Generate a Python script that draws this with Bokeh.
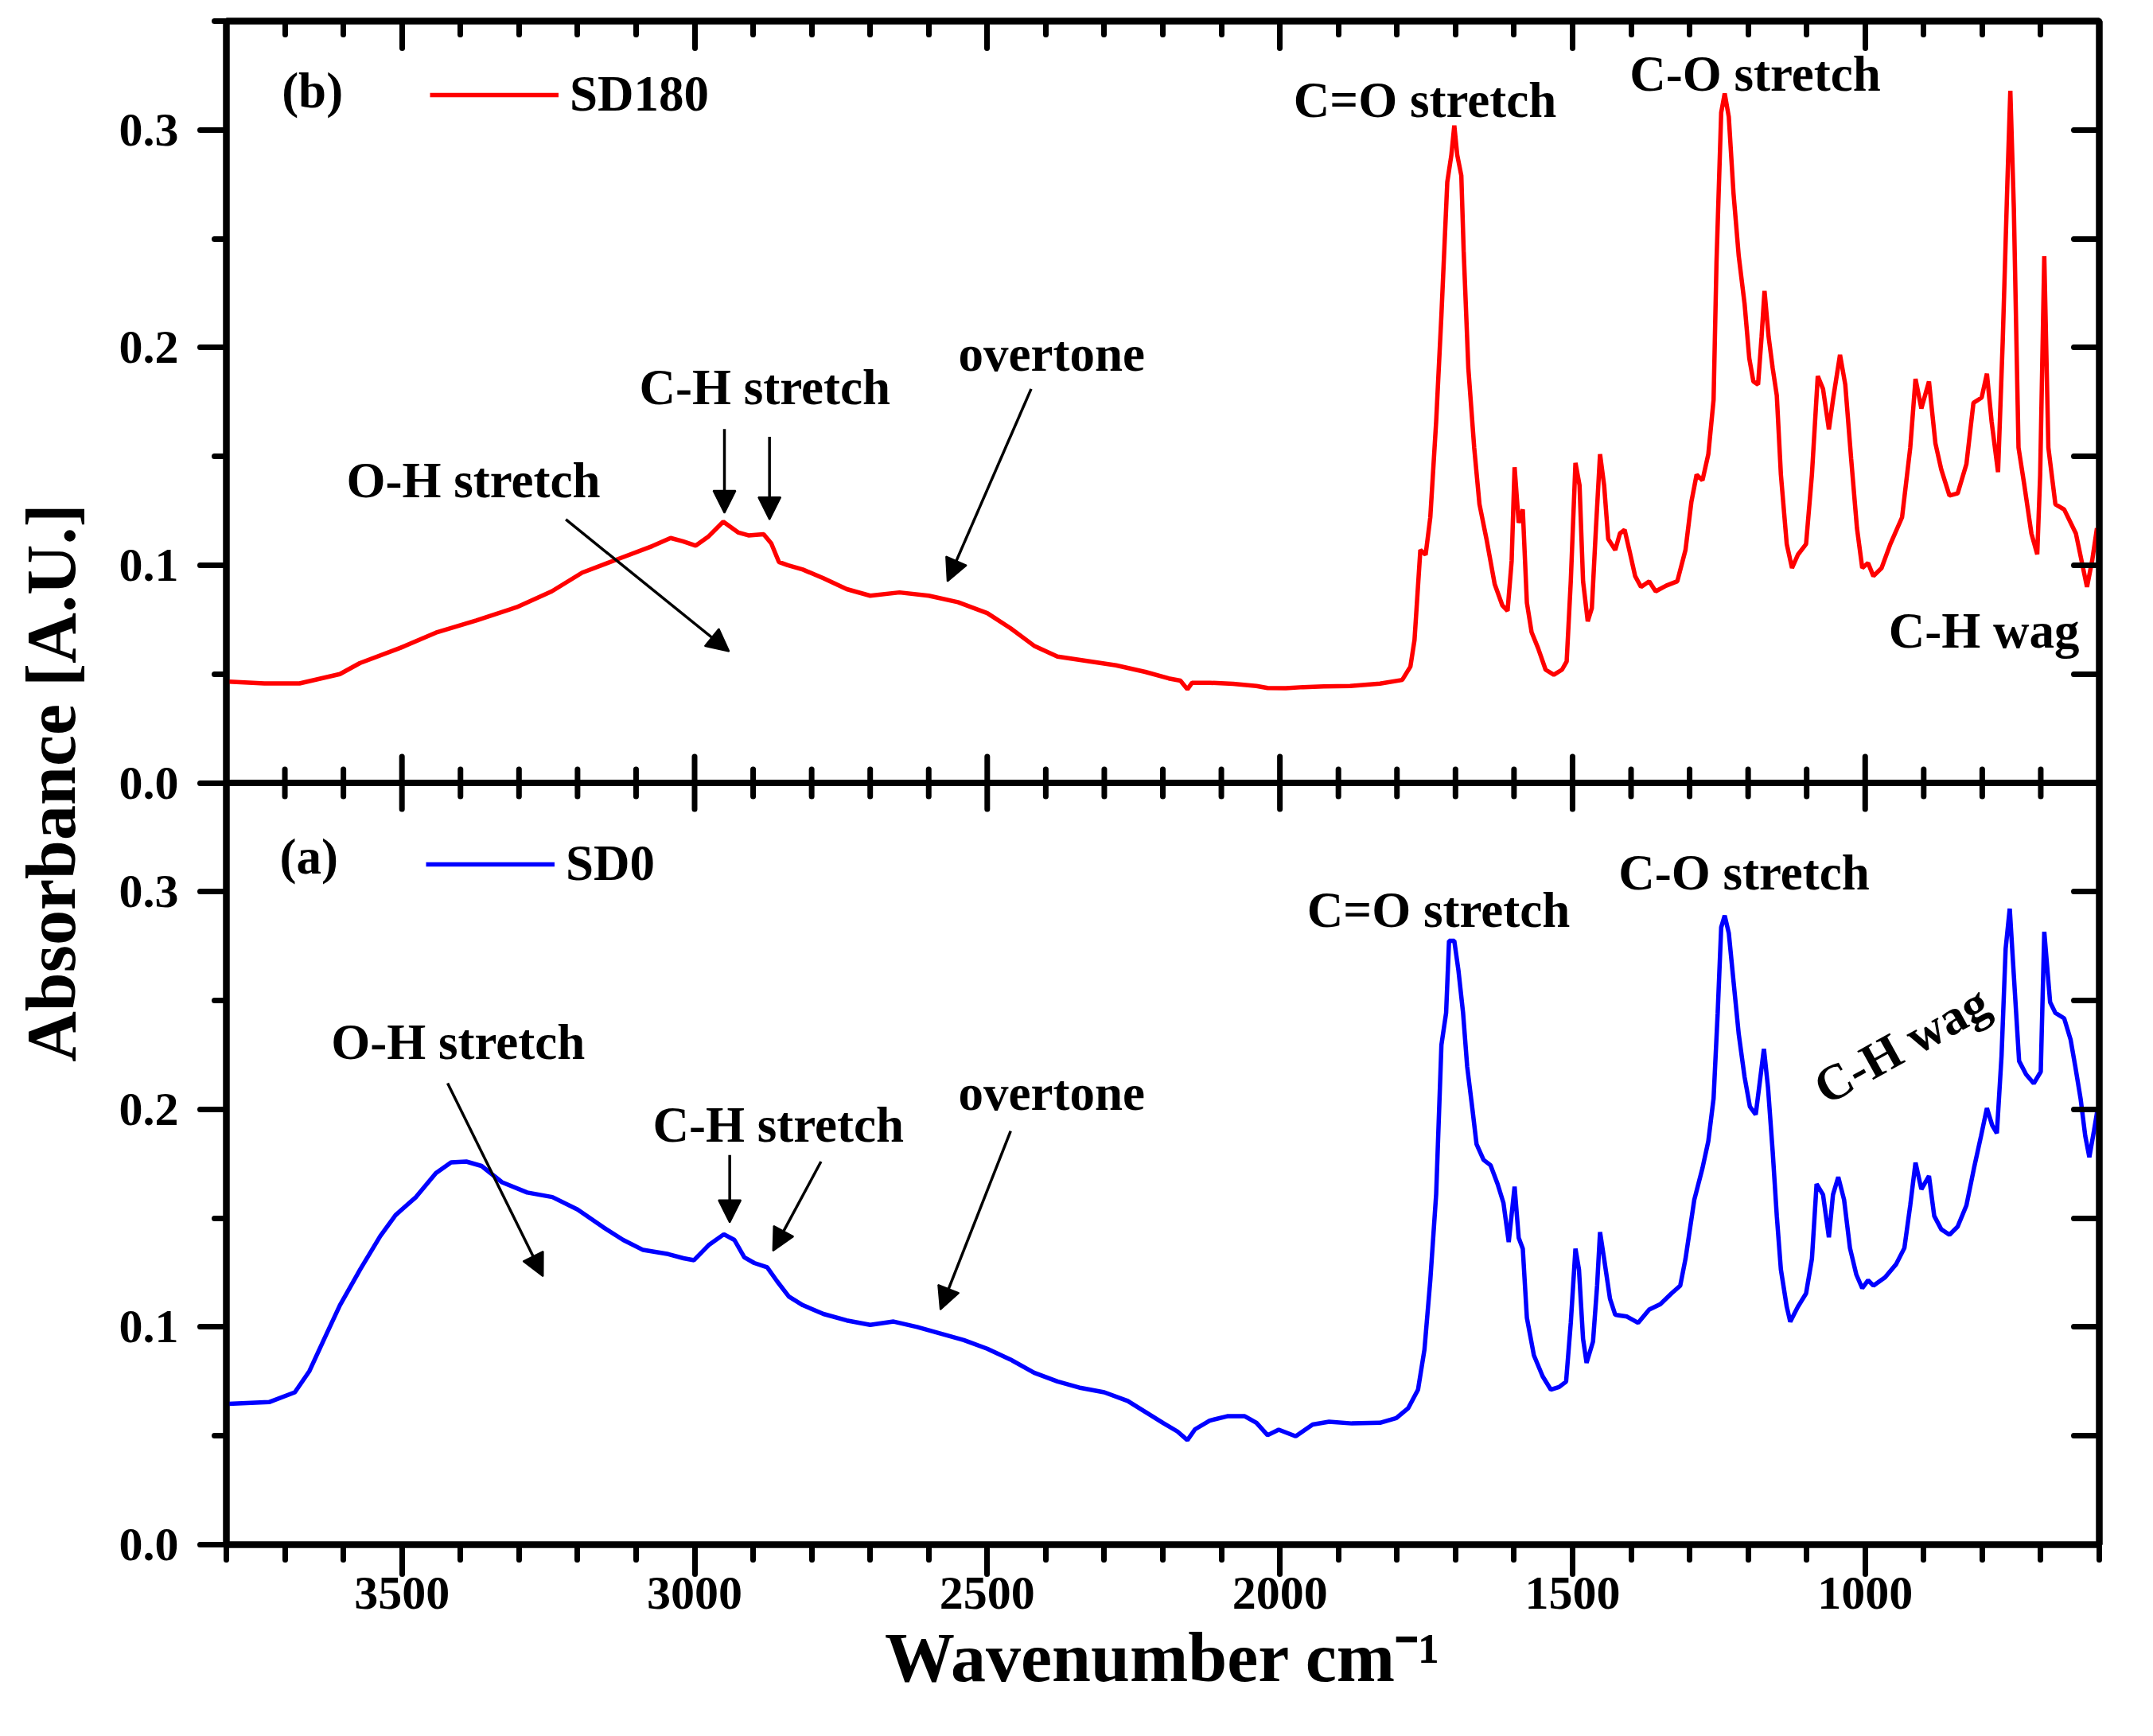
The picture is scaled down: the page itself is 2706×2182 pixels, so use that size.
import numpy as np
from bokeh.core.properties import value
from bokeh.embed import file_html
from bokeh.models import (Arrow, ColumnDataSource, CustomJSTickFormatter, FixedTicker,
                          Legend, LinearAxis, NormalHead, Range1d, Span)
from bokeh.plotting import figure
from bokeh.resources import INLINE

FONT = "Liberation Serif"

# --- spectra (wavenumber cm-1, absorbance A.U.) ---
sd180_wavenumber = [
    3796, 3735, 3675, 3606, 3572, 3503, 3442, 3373, 3304, 3244, 3192, 3132, 3072, 3041,
    3020, 2998, 2977, 2951, 2925, 2908, 2882, 2869, 2856, 2841, 2815, 2780, 2740, 2700,
    2650, 2600, 2550, 2500, 2460, 2420, 2380, 2330, 2280, 2230, 2190, 2170, 2158, 2150,
    2120, 2080, 2040, 2021, 1990, 1960, 1925, 1880, 1829, 1791, 1777, 1770, 1760, 1751,
    1743, 1733, 1724, 1714, 1707, 1702, 1697, 1690, 1686, 1678, 1668, 1659, 1647, 1633,
    1620, 1611, 1604, 1599, 1592, 1585, 1578, 1570, 1559, 1546, 1532, 1518, 1510, 1503,
    1495, 1488, 1482, 1474, 1467, 1460, 1453, 1446, 1439, 1427, 1419, 1411, 1403, 1393,
    1383, 1369, 1358, 1340, 1321, 1307, 1297, 1288, 1278, 1268, 1259, 1254, 1246, 1240,
    1233, 1225, 1216, 1206, 1198, 1191, 1183, 1177, 1172, 1165, 1158, 1151, 1144, 1134,
    1125, 1115, 1101, 1091, 1081, 1072, 1062, 1055, 1043, 1034, 1024, 1014, 1005, 995,
    986, 972, 957, 937, 923, 914, 904, 891, 880, 870, 856, 842, 827, 815, 801, 792, 784,
    773, 765, 757, 752, 746, 738, 728, 716, 706, 701, 694, 687, 675, 660, 640, 621, 612, 604,
]
sd180_absorbance = [
    0.0465, 0.0457, 0.0457, 0.050, 0.055, 0.062, 0.069, 0.0746, 0.0807, 0.088, 0.0966,
    0.1027, 0.1088, 0.1125, 0.111, 0.109, 0.113, 0.120, 0.115, 0.1137, 0.1142, 0.110,
    0.1015, 0.100, 0.098, 0.094, 0.089, 0.086, 0.0875, 0.086, 0.083, 0.078, 0.071, 0.063,
    0.058, 0.056, 0.054, 0.051, 0.048, 0.047, 0.043, 0.046, 0.046, 0.0455, 0.0445, 0.0436,
    0.0435, 0.044, 0.0443, 0.0445, 0.0456, 0.0473, 0.0534, 0.0656, 0.107, 0.1048, 0.122,
    0.166, 0.215, 0.276, 0.2885, 0.302, 0.2885, 0.279, 0.2444, 0.1905, 0.154, 0.128,
    0.112, 0.0913, 0.0816, 0.079, 0.102, 0.145, 0.1195, 0.1256, 0.0828, 0.0693, 0.062,
    0.052, 0.0497, 0.052, 0.0558, 0.0926, 0.147, 0.1367, 0.0926, 0.0742, 0.0803, 0.117,
    0.151, 0.1367, 0.112, 0.107, 0.1146, 0.1163, 0.107, 0.095, 0.090, 0.0926, 0.088,
    0.0906, 0.0926, 0.107, 0.129, 0.1416, 0.139, 0.151, 0.176, 0.2395, 0.308, 0.3167,
    0.306, 0.271, 0.242, 0.220, 0.195, 0.1844, 0.183, 0.205, 0.226, 0.205, 0.1905, 0.178,
    0.1416, 0.1097, 0.0987, 0.1048, 0.1097, 0.1416, 0.1869, 0.181, 0.1624, 0.176, 0.1967,
    0.183, 0.149, 0.117, 0.0987, 0.101, 0.095, 0.0987, 0.1097, 0.122, 0.154, 0.1856,
    0.172, 0.1844, 0.156, 0.144, 0.132, 0.133, 0.1465, 0.1746, 0.177, 0.188, 0.166,
    0.1428, 0.2028, 0.276, 0.318, 0.264, 0.154, 0.1367, 0.1146, 0.105, 0.1416, 0.242,
    0.154, 0.128, 0.1256, 0.1146, 0.090, 0.1024, 0.117,
]

sd0_wavenumber = [
    3796, 3727, 3683, 3658, 3632, 3606, 3571, 3537, 3511, 3476, 3442, 3416, 3390, 3364,
    3329, 3286, 3243, 3200, 3157, 3122, 3088, 3045, 3019, 3001, 2976, 2950, 2932, 2915,
    2898, 2876, 2859, 2839, 2815, 2780, 2740, 2700, 2660, 2620, 2580, 2540, 2500, 2460,
    2420, 2380, 2340, 2300, 2260, 2230, 2200, 2175, 2158, 2145, 2120, 2090, 2060, 2040,
    2021, 2002, 1973, 1944, 1916, 1877, 1829, 1801, 1781, 1764, 1753, 1743, 1733, 1724,
    1716, 1711, 1702, 1695, 1687, 1680, 1671, 1664, 1652, 1640, 1628, 1618, 1609, 1599,
    1592, 1585, 1578, 1566, 1551, 1537, 1523, 1511, 1503, 1495, 1489, 1482, 1476, 1465,
    1458, 1453, 1446, 1436, 1427, 1407, 1388, 1369, 1350, 1331, 1316, 1307, 1292, 1278,
    1268, 1259, 1252, 1246, 1240, 1233, 1225, 1216, 1206, 1197, 1187, 1179, 1173, 1166,
    1158, 1151, 1144, 1134, 1128, 1115, 1101, 1091, 1083, 1072, 1062, 1055, 1046, 1036,
    1026, 1015, 1005, 995, 986, 966, 947, 933, 923, 914, 904, 891, 882, 870, 856, 842,
    827, 814, 802, 792, 783, 775, 767, 760, 753, 746, 737, 725, 712, 700, 694, 684, 675,
    660, 649, 641, 632, 624, 617, 609, 603,
]
sd0_absorbance = [
    0.0647, 0.0655, 0.070, 0.0798, 0.095, 0.110, 0.1266, 0.1418, 0.1514, 0.1597, 0.1707,
    0.1756, 0.176, 0.174, 0.1665, 0.1618, 0.1597, 0.154, 0.146, 0.140, 0.1354, 0.1335,
    0.1316, 0.1307, 0.1376, 0.1426, 0.140, 0.132, 0.1294, 0.1274, 0.121, 0.114, 0.110,
    0.106, 0.103, 0.101, 0.1025, 0.100, 0.097, 0.094, 0.090, 0.085, 0.079, 0.075, 0.072,
    0.070, 0.066, 0.061, 0.056, 0.052, 0.048, 0.053, 0.057, 0.059, 0.059, 0.056, 0.0503,
    0.0528, 0.0498, 0.0552, 0.0565, 0.0557, 0.056, 0.0582, 0.0626, 0.0712, 0.0896,
    0.1215, 0.161, 0.2296, 0.2443, 0.2774, 0.2774, 0.264, 0.2443, 0.2197, 0.200, 0.184,
    0.1768, 0.1743, 0.1657, 0.157, 0.139, 0.1645, 0.141, 0.136, 0.1043, 0.087, 0.0773,
    0.0712, 0.0724, 0.0749, 0.1019, 0.136, 0.1264, 0.0945, 0.0835, 0.0933, 0.119, 0.1436,
    0.1313, 0.113, 0.1056, 0.1048, 0.1019, 0.108, 0.1105, 0.1154, 0.119, 0.1313, 0.1584,
    0.173, 0.1854, 0.205, 0.2443, 0.2836, 0.289, 0.281, 0.259, 0.2345, 0.2148, 0.2013,
    0.1976, 0.2148, 0.2278, 0.210, 0.1805, 0.151, 0.1264, 0.1093, 0.1024, 0.1093, 0.1154,
    0.1313, 0.1657, 0.1608, 0.1412, 0.1608, 0.1689, 0.1584, 0.1363, 0.124, 0.1178,
    0.1215, 0.119, 0.1228, 0.1289, 0.1363, 0.1559, 0.1755, 0.1633, 0.1694, 0.151, 0.1449,
    0.1424, 0.1461, 0.1559, 0.1731, 0.1878, 0.2006, 0.1927, 0.189, 0.2246, 0.2738,
    0.2922, 0.2615, 0.2222, 0.216, 0.2119, 0.2173, 0.2816, 0.2492, 0.2443, 0.2418, 0.232,
    0.2197, 0.205, 0.1878, 0.178, 0.1903, 0.200,
]

# --- axes ---
x_major_ticks = [3500, 3000, 2500, 2000, 1500, 1000]
x_minor_ticks = [w for w in range(3800, 599, -100) if w not in x_major_ticks]
y_major_ticks = [0.0, 0.1, 0.2, 0.3]
y_minor_ticks = [0.05, 0.15, 0.25, 0.35]
PANEL = 0.35  # each panel shows 0 .. 0.35

# --- annotations (panel b = top, panel a = bottom) ---
top_notes = ["(b)", "O-H stretch", "C-H stretch", "overtone", "C=O stretch", "C-O stretch", "C-H wag"]
top_note_x = [3653, 3378, 2880, 2390, 1752, 1188, 797]
top_note_y = [0.318, 0.139, 0.1815, 0.197, 0.3135, 0.3257, 0.0700]
top_note_angle = [0, 0, 0, 0, 0, 0, 0]

bottom_notes = ["(a)", "O-H stretch", "C-H stretch", "overtone", "C=O stretch", "C-O stretch", "C-H wag"]
bottom_note_x = [3659, 3404, 2857, 2390, 1729, 1207, 938]
bottom_note_y = [0.316, 0.231, 0.193, 0.2075, 0.2914, 0.3086, 0.2296]
bottom_note_angle = [0, 0, 0, 0, 0, 0, np.radians(29)]

top_arrow_x0 = [3220, 2949, 2872, 2425]
top_arrow_y0 = [0.121, 0.1626, 0.159, 0.181]
top_arrow_x1 = [2941, 2949, 2872, 2568]
top_arrow_y1 = [0.0604, 0.124, 0.121, 0.0926]

bottom_arrow_x0 = [3422, 2940, 2784, 2460]
bottom_arrow_y0 = [0.212, 0.179, 0.176, 0.190]
bottom_arrow_x1 = [3259, 2940, 2866, 2580]
bottom_arrow_y1 = [0.1233, 0.148, 0.135, 0.108]


def note_style():
    return dict(text_font=value(FONT), text_font_style="bold",
                text_font_size="63px", text_color="black",
                text_align="center", text_baseline="middle")


def blank_formatter():
    return CustomJSTickFormatter(code="return '';")


p = figure(
    width=2690, height=2166,
    min_border_left=284, min_border_right=52, min_border_top=26, min_border_bottom=225,
    x_range=Range1d(3800, 600),
    y_range=Range1d(0, 2 * PANEL),
    output_backend="svg", toolbar_location=None, tools="",
)
p.extra_y_ranges = {"top": Range1d(-PANEL, PANEL)}
p.grid.visible = False
p.outline_line_color = "black"
p.outline_line_width = 8
p.background_fill_color = "white"
p.border_fill_color = "white"

# bottom x axis
xb = p.xaxis[0]
xb.ticker = FixedTicker(ticks=x_major_ticks, minor_ticks=x_minor_ticks)
xb.major_tick_out, xb.major_tick_in = 37, 0
xb.minor_tick_out, xb.minor_tick_in = 19, 0
xb.major_label_standoff = 4
xb.axis_label = "Wavenumber cm\u207b\u00b9"
xb.axis_label_standoff = 10
xb.axis_label_text_font = FONT
xb.axis_label_text_font_style = "bold"
xb.axis_label_text_font_size = "88px"
xb.axis_label_text_color = "black"

# left y axis: both panels, top panel labels shifted back by PANEL
left_major = y_major_ticks + [t + PANEL for t in y_major_ticks]
left_minor = y_minor_ticks + [t + PANEL for t in y_minor_ticks]
yl = p.yaxis[0]
yl.ticker = FixedTicker(ticks=left_major, minor_ticks=left_minor)
yl.formatter = CustomJSTickFormatter(
    code="const v = tick > 0.345 ? tick - 0.35 : tick; return Math.abs(v).toFixed(1);")
yl.major_tick_out, yl.major_tick_in = 33, 0
yl.minor_tick_out, yl.minor_tick_in = 15, 0
yl.major_label_standoff = 27
yl.axis_label = "Absorbance [A.U.]"
yl.axis_label_standoff = 34
yl.axis_label_text_font = FONT
yl.axis_label_text_font_style = "bold"
yl.axis_label_text_font_size = "88px"
yl.axis_label_text_color = "black"

xt = LinearAxis(ticker=FixedTicker(ticks=x_major_ticks, minor_ticks=x_minor_ticks),
                formatter=blank_formatter())
xt.major_tick_in, xt.major_tick_out = 34, 0
xt.minor_tick_in, xt.minor_tick_out = 17, 0
p.add_layout(xt, "above")

right_ticks = [t for t in y_major_ticks + y_minor_ticks if 0 < t < PANEL]
right_ticks = sorted(right_ticks + [t + PANEL for t in right_ticks])
yr = LinearAxis(ticker=FixedTicker(ticks=right_ticks, minor_ticks=[]),
                formatter=blank_formatter())
yr.major_tick_in, yr.major_tick_out = 32, 0
p.add_layout(yr, "right")

for ax in (xb, yl, xt, yr):
    ax.axis_line_width = 8
    ax.axis_line_color = "black"
    ax.major_tick_line_width = 7
    ax.minor_tick_line_width = 7
    ax.major_tick_line_color = "black"
    ax.minor_tick_line_color = "black"
    ax.major_tick_line_cap = "round"
    ax.minor_tick_line_cap = "round"
    ax.major_label_text_font = FONT
    ax.major_label_text_font_style = "bold"
    ax.major_label_text_font_size = "60px"
    ax.major_label_text_color = "black"

# divider between the panels, with ticks on both sides
p.add_layout(Span(location=PANEL, dimension="width", line_color="black", line_width=8))
p.scatter(x=x_major_ticks, y=PANEL, marker="dash", size=66, angle=np.pi / 2,
          line_color="black", line_width=7, line_cap="round")
p.scatter(x=x_minor_ticks, y=PANEL, marker="dash", size=34, angle=np.pi / 2,
          line_color="black", line_width=7, line_cap="round")

# spectra
r_sd180 = p.line(sd180_wavenumber, sd180_absorbance, y_range_name="top",
                 line_color="#ff0000", line_width=5.5)
r_sd0 = p.line(sd0_wavenumber, sd0_absorbance, line_color="#0000ff", line_width=5.5)

# annotations
top_src = ColumnDataSource(dict(x=top_note_x, y=top_note_y, text=top_notes, angle=top_note_angle))
p.text(x="x", y="y", text="text", angle="angle", source=top_src, y_range_name="top",
       **note_style())
bot_src = ColumnDataSource(dict(x=bottom_note_x, y=bottom_note_y, text=bottom_notes,
                                angle=bottom_note_angle))
p.text(x="x", y="y", text="text", angle="angle", source=bot_src, **note_style())

for x0, y0, x1, y1, rng in ((top_arrow_x0, top_arrow_y0, top_arrow_x1, top_arrow_y1, "top"),
                            (bottom_arrow_x0, bottom_arrow_y0, bottom_arrow_x1, bottom_arrow_y1, "default")):
    src = ColumnDataSource(dict(x0=x0, y0=y0, x1=x1, y1=y1))
    p.add_layout(Arrow(x_start="x0", y_start="y0", x_end="x1", y_end="y1", source=src,
                       y_range_name=rng, line_color="black", line_width=3.5,
                       end=NormalHead(size=28, fill_color="black", line_color="black",
                                      line_width=2)))

# legends
for name, rend, loc in (("SD180", r_sd180, (256, 1786)), ("SD0", r_sd0, (251, 819))):
    leg = Legend(items=[(name, [rend])], location=loc, orientation="vertical",
                 glyph_width=162, glyph_height=70, label_height=70, label_standoff=14,
                 padding=0, margin=0, spacing=0, border_line_color=None,
                 background_fill_alpha=0, label_text_font=FONT,
                 label_text_font_style="bold", label_text_font_size="63px",
                 label_text_color="black", label_text_baseline="middle")
    p.add_layout(leg)

open("out.html", "w").write(file_html(p, INLINE))
